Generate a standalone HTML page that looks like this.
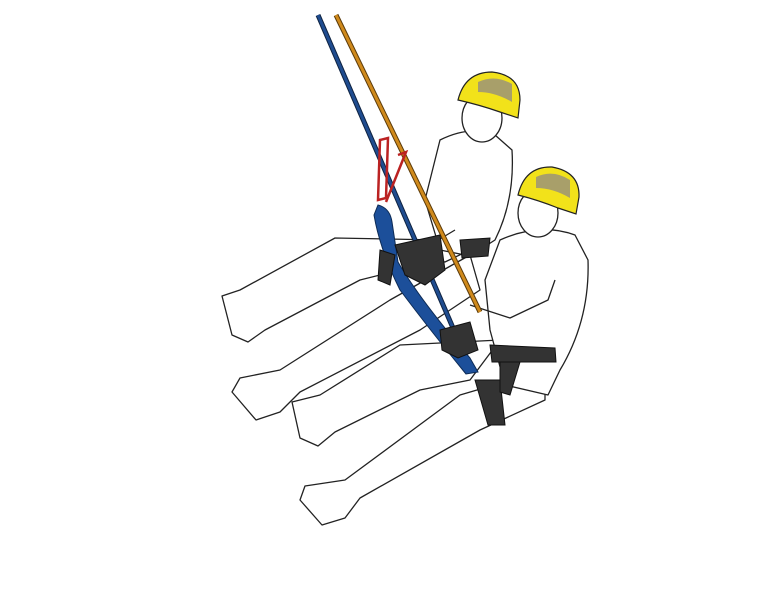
<!DOCTYPE html>
<html><head><meta charset="utf-8"><style>html,body{margin:0;padding:0;background:#fff}svg{display:block}</style></head><body>
<svg width="768" height="593" viewBox="0 0 768 593" xmlns="http://www.w3.org/2000/svg">
<g fill="#fff" stroke="#222" stroke-width="1.3" stroke-linejoin="round">
<path d="M440 240 L335 238 L240 290 L222 296 L232 335 L248 342 L265 330 L360 280 L400 270 Z"/>
<path d="M470 255 L390 300 L280 370 L240 378 L232 392 L256 420 L280 412 L300 392 L420 330 L480 290 Z"/>
<path d="M440 140 Q470 125 495 135 L512 150 Q515 200 495 240 L470 256 L440 250 L425 200 Z"/>
<ellipse cx="482" cy="118" rx="20" ry="24"/>
<path d="M500 340 L400 345 L320 395 L292 402 L300 438 L318 446 L335 432 L420 390 L470 380 Z"/>
<path d="M545 370 L460 395 L345 480 L305 486 L300 500 L322 525 L345 518 L360 498 L480 430 L545 400 Z"/>
<path d="M500 240 Q540 222 575 235 L588 260 Q590 320 560 370 L548 395 L505 385 L490 330 L485 280 Z"/>
<ellipse cx="538" cy="213" rx="20" ry="24"/>
<path d="M470 305 L510 318 L548 300 L555 280" fill="none"/>
<path d="M455 230 L430 245 L425 258 L445 262 L470 250" fill="none"/>
</g>
<line x1="318" y1="15" x2="472" y2="372" stroke="#0e2240" stroke-width="5"/>
<line x1="318" y1="15" x2="472" y2="372" stroke="#1f4c8f" stroke-width="3"/>
<line x1="336" y1="15" x2="480" y2="312" stroke="#5a3a0a" stroke-width="5"/>
<line x1="336" y1="15" x2="480" y2="312" stroke="#d08a1c" stroke-width="3"/>
<path d="M378 205 Q390 208 392 222 L398 262 Q420 300 470 358 L478 372 L466 374 Q430 330 400 290 Q380 250 374 215 Z" fill="#1c4f9a" stroke="#0d2b55" stroke-width="1"/>
<path d="M380 140 L388 138 L386 198 L378 200 Z M398 155 L406 152 L386 202" fill="none" stroke="#b22" stroke-width="2.5"/>
<g fill="#333" stroke="#111" stroke-width="1">
<path d="M395 245 L440 235 L445 270 L425 285 L405 275 Z"/>
<path d="M460 240 L490 238 L488 256 L462 258 Z"/>
<path d="M440 330 L470 322 L478 350 L458 358 L442 350 Z"/>
<path d="M490 345 L555 348 L556 362 L492 362 Z"/>
<path d="M475 380 L500 380 L505 425 L488 425 Z"/>
<path d="M380 250 L395 255 L390 285 L378 280 Z"/>
<path d="M500 362 L520 362 L510 395 L500 392 Z"/>
</g>
<g stroke="#222" stroke-width="1.2">
<path d="M458 100 Q465 72 492 72 Q520 75 520 100 L518 118 L500 112 Q480 105 458 100 Z" fill="#f2e21a"/>
<path d="M478 82 Q495 74 512 84 L512 102 Q495 92 478 92 Z" fill="#a89f6a" stroke="none"/>
<path d="M518 195 Q525 166 552 167 Q580 172 579 197 L576 214 L558 208 Q538 200 518 195 Z" fill="#f2e21a"/>
<path d="M536 177 Q553 169 570 180 L570 198 Q553 188 536 188 Z" fill="#a89f6a" stroke="none"/>
</g>
</svg>
</body></html>
